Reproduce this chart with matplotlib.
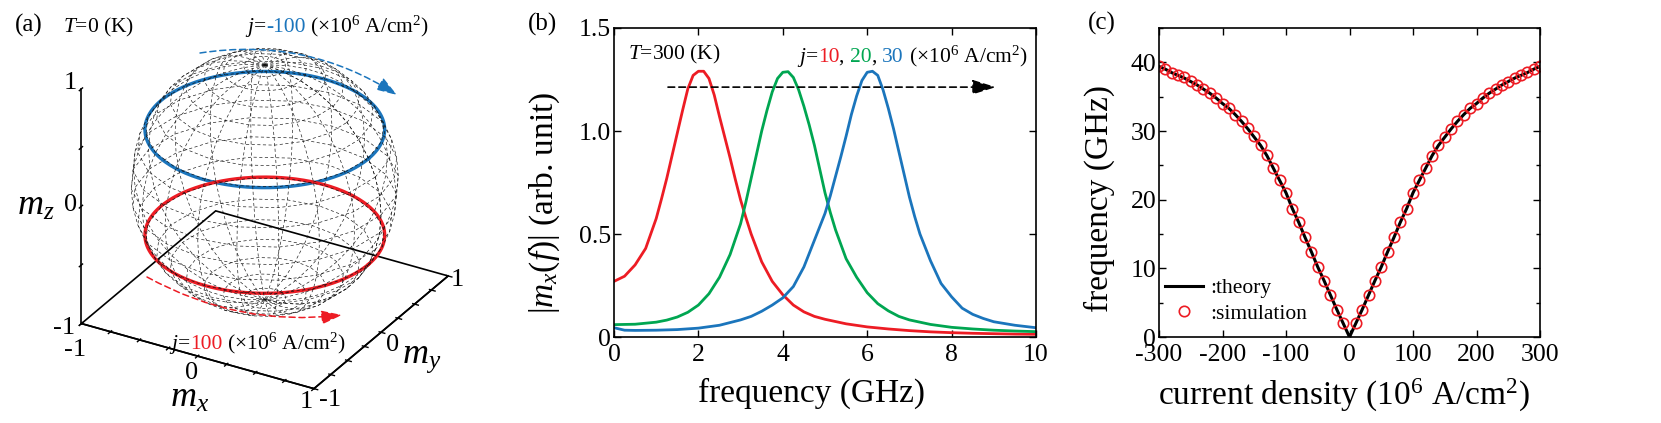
import numpy as np
import matplotlib
matplotlib.use("Agg")
import matplotlib.pyplot as plt
from matplotlib.patches import FancyArrowPatch
from matplotlib.ticker import MultipleLocator
from matplotlib import transforms as mtransforms
from mpl_toolkits.mplot3d import proj3d

plt.rcParams['font.family'] = ['Liberation Serif', 'DejaVu Serif']
plt.rcParams['mathtext.fontset'] = 'custom'
plt.rcParams['mathtext.rm'] = 'Liberation Serif'
plt.rcParams['mathtext.it'] = 'Liberation Serif:italic'
plt.rcParams['mathtext.bf'] = 'Liberation Serif:bold'
plt.rcParams['axes.unicode_minus'] = False

RED = '#ED1C24'
GREEN = '#00A651'
BLUE = '#1B75BC'

# ---------------- data ----------------
# panel (a): precession cones
mz_blue = 0.45     # j = -100
mz_red = -0.45     # j = 100
m_ticks = [-1, -0.75, -0.5, -0.25, 0, 0.25, 0.5, 0.75, 1]
mz_ticks = [-1, -0.5, 0, 0.5, 1]

# panel (b): spectra |m_x(f)|
f_j10 = [0, 0.25, 0.5, 0.75, 1.0, 1.125, 1.25, 1.375, 1.5, 1.625, 1.75, 1.875,
         2.0, 2.125, 2.25, 2.375, 2.5, 2.625, 2.75, 2.875, 3.0, 3.125, 3.25,
         3.5, 3.75, 4.0, 4.25, 4.5, 4.75, 5.0, 5.5, 6.0, 6.5, 7.0, 7.5, 8.0,
         8.5, 9.0, 9.5, 10]
mx_j10 = [0.27, 0.295, 0.35, 0.43, 0.575, 0.67, 0.77, 0.88, 0.99, 1.10, 1.205, 1.27,
          1.29, 1.29, 1.255, 1.175, 1.07, 0.97, 0.87, 0.765, 0.665, 0.58, 0.50,
          0.365, 0.27, 0.205, 0.155, 0.122, 0.10, 0.086, 0.064, 0.049, 0.039, 0.031,
          0.025, 0.021, 0.018, 0.016, 0.014, 0.013]
f_j20 = [0, 0.5, 1.0, 1.25, 1.5, 1.75, 2.0, 2.25, 2.5, 2.75, 3.0, 3.125, 3.25,
         3.375, 3.5, 3.625, 3.75, 3.875, 4.0, 4.125, 4.25, 4.375, 4.5, 4.625,
         4.75, 4.875, 5.0, 5.125, 5.25, 5.5, 5.75, 6.0, 6.25, 6.5, 6.75, 7.0,
         7.5, 8.0, 8.5, 9.0, 9.5, 10]
mx_j20 = [0.06, 0.062, 0.072, 0.082, 0.097, 0.12, 0.155, 0.21, 0.29, 0.40, 0.55,
          0.655, 0.77, 0.885, 1.00, 1.10, 1.19, 1.255, 1.285, 1.288, 1.26, 1.20,
          1.12, 1.03, 0.93, 0.815, 0.70, 0.605, 0.52, 0.38, 0.29, 0.215, 0.162,
          0.127, 0.10, 0.083, 0.061, 0.047, 0.039, 0.033, 0.029, 0.026]
f_j30 = [0, 0.25, 0.5, 1.0, 1.5, 2.0, 2.5, 3.0, 3.25, 3.5, 3.75, 4.0, 4.25, 4.5,
         4.75, 5.0, 5.125, 5.25, 5.375, 5.5, 5.625, 5.75, 5.875, 6.0, 6.125,
         6.25, 6.375, 6.5, 6.625, 6.75, 6.875, 7.0, 7.125, 7.25, 7.5, 7.75, 8.0,
         8.25, 8.5, 8.75, 9.0, 9.5, 10]
mx_j30 = [0.045, 0.033, 0.032, 0.033, 0.036, 0.043, 0.057, 0.083, 0.10, 0.125,
          0.155, 0.19, 0.245, 0.34, 0.47, 0.60, 0.685, 0.78, 0.875, 0.975, 1.08,
          1.17, 1.245, 1.285, 1.29, 1.27, 1.20, 1.11, 1.01, 0.90, 0.79, 0.68,
          0.585, 0.50, 0.37, 0.26, 0.195, 0.14, 0.11, 0.09, 0.074, 0.057, 0.045]

# panel (c): frequency vs current density
j_theory = [-300, -290, -280, -270, -260, -250, -240, -230, -220, -210,
            -200, -190, -180, -170, -160, -150, -140, -130, -120, -110,
            -100, -90, -80, -70, -60, -50, -40, -30, -20, -10, 0,
            10, 20, 30, 40, 50, 60, 70, 80, 90, 100,
            110, 120, 130, 140, 150, 160, 170, 180, 190, 200,
            210, 220, 230, 240, 250, 260, 270, 280, 290, 300]
f_theory = [39.4, 39.0, 38.5, 38.1, 37.7, 37.2, 36.7, 36.1, 35.5, 34.8,
            34.0, 33.3, 32.4, 31.4, 30.3, 29.1, 27.9, 26.4, 24.6, 22.8,
            21.0, 18.7, 16.7, 14.5, 12.4, 10.2, 8.2, 6.1, 4.0, 2.0, 0.0,
            2.0, 4.0, 6.1, 8.2, 10.2, 12.4, 14.5, 16.7, 18.7, 21.0,
            22.8, 24.6, 26.4, 27.9, 29.1, 30.3, 31.4, 32.4, 33.3, 34.0,
            34.8, 35.5, 36.1, 36.7, 37.2, 37.7, 38.1, 38.5, 39.0, 39.4]
j_sim = [-300, -290, -280, -270, -260, -250, -240, -230, -220, -210,
         -200, -190, -180, -170, -160, -150, -140, -130, -120, -110,
         -100, -90, -80, -70, -60, -50, -40, -30, -20, -10,
         10, 20, 30, 40, 50, 60, 70, 80, 90, 100,
         110, 120, 130, 140, 150, 160, 170, 180, 190, 200,
         210, 220, 230, 240, 250, 260, 270, 280, 290, 300]
f_sim = [39.4, 39.0, 38.5, 38.1, 37.8, 37.3, 36.7, 36.1, 35.5, 34.8,
         34.0, 33.3, 32.4, 31.5, 30.4, 29.2, 27.9, 26.5, 24.6, 22.8,
         21.0, 18.7, 16.7, 14.5, 12.4, 10.2, 8.2, 6.1, 4.0, 2.0,
         2.0, 4.0, 6.1, 8.2, 10.2, 12.4, 14.5, 16.7, 18.7, 21.0,
         22.8, 24.6, 26.4, 27.9, 29.1, 30.3, 31.4, 32.4, 33.3, 34.0,
         34.8, 35.5, 36.1, 36.7, 37.2, 37.7, 38.1, 38.6, 39.0, 39.4]

# ---------------- figure ----------------
W, H = 1661, 423
fig = plt.figure(figsize=(W / 100, H / 100), dpi=100)

TICK = 18.5
LAB = 24
ANN = 15.5

def style_2d(ax):
    for s in ax.spines.values():
        s.set_linewidth(1.2)
    ax.tick_params(which='both', direction='in', top=True, right=True,
                   width=1.0, labelsize=TICK)
    ax.tick_params(which='major', length=5)
    ax.tick_params(which='minor', length=3)
    ax.tick_params(axis='x', pad=5)
    ax.tick_params(axis='y', pad=2)

# ---- panel (b)
axb = fig.add_axes([614 / W, (H - 337) / H, 422 / W, 309 / H])
axb.plot(f_j10, mx_j10, color=RED, lw=2.0)
axb.plot(f_j20, mx_j20, color=GREEN, lw=2.0)
axb.plot(f_j30, mx_j30, color=BLUE, lw=2.0)
axb.set_xlim(0, 10)
axb.set_ylim(0, 1.5)
axb.set_xticks([0, 2, 4, 6, 8, 10])
axb.set_yticks([0, 0.5, 1.0, 1.5])
axb.set_yticklabels(['0', '0.5', '1.0', '1.5'])
style_2d(axb)
axb.set_xlabel('frequency (GHz)', fontsize=LAB)
axb.set_ylabel('$|m_x(f)|$ (arb. unit)', fontsize=LAB)
axb.xaxis.set_label_coords(0.468, -0.133)
axb.yaxis.set_label_coords(-0.123, 0.434)
axb.annotate('', xy=(9.05, 1.213), xytext=(1.28, 1.213),
             arrowprops=dict(arrowstyle='-|>,head_length=0.9,head_width=0.28',
                             linestyle=(0, (4, 2.5)), lw=1.2, color='k',
                             mutation_scale=16, shrinkA=0, shrinkB=0))

# ---- panel (c)
axc = fig.add_axes([1159 / W, (H - 337) / H, 381 / W, 309 / H])
axc.plot(j_theory, f_theory, color='k', lw=2.2, label=':theory')
axc.plot(j_sim, f_sim, linestyle='none', marker='o', ms=7.5, mfc='none',
         mec=RED, mew=1.2, label=':simulation')
axc.set_xlim(-300, 300)
axc.set_ylim(0, 45)
axc.set_xticks([-300, -200, -100, 0, 100, 200, 300])
axc.set_yticks([0, 10, 20, 30, 40])
axc.yaxis.set_minor_locator(MultipleLocator(5))
style_2d(axc)
axc.set_xlabel('current density (10$^6$ A/cm$^2$)', fontsize=LAB)
axc.set_ylabel('frequency (GHz)', fontsize=LAB)
axc.xaxis.set_label_coords(0.4856, -0.13)
axc.yaxis.set_label_coords(-0.115, 0.447)
axc.legend(loc='center left', bbox_to_anchor=(0.0157, 0.1165), frameon=False,
           borderpad=0, borderaxespad=0, handlelength=1.75, handletextpad=0.35,
           labelspacing=0.25, fontsize=ANN)

# ---- panel (a): 3D
ax3 = fig.add_axes([0.0, 0.05, 0.3, 0.9], projection='3d', proj_type='ortho')
ax3.view_init(elev=29, azim=-60)
ax3.set_box_aspect((1, 1, 1))
u = np.linspace(0, 2 * np.pi, 21)
v = np.linspace(0, np.pi, 21)
Xs = np.outer(np.cos(u), np.sin(v))
Ys = np.outer(np.sin(u), np.sin(v))
Zs = np.outer(np.ones_like(u), np.cos(v))
ax3.plot_wireframe(Xs, Ys, Zs, rstride=1, cstride=1, color='#111111',
                   linewidth=0.45, linestyle=(0, (5, 4)))
th = np.linspace(0, 2 * np.pi, 300)
for mz, col in ((mz_blue, BLUE), (mz_red, RED)):
    r = np.sqrt(1 - mz ** 2)
    ax3.plot(r * np.cos(th), r * np.sin(th), np.full_like(th, mz), color=col, lw=2.4)
ax3.set_xlim(-1, 1)
ax3.set_ylim(-1, 1)
ax3.set_zlim(-1, 1)
ax3.set_xticks(m_ticks)
ax3.set_yticks(m_ticks)
ax3.set_zticks(mz_ticks)
ax3.set_xticklabels([''] * len(m_ticks))
ax3.set_yticklabels([''] * len(m_ticks))
ax3.set_zticklabels([''] * len(mz_ticks))
ax3.grid(False)
ax3.zaxis.set_ticks_position('lower')
for a in (ax3.xaxis, ax3.yaxis):
    a.set_pane_color((1, 1, 1, 0))
    a.pane.set_edgecolor((1, 1, 1, 0))
zp = ax3.zaxis.pane
zp.set_alpha(None)
zp.set_closed(True)
zp.set_facecolor((1, 1, 1, 0))
zp.set_edgecolor((0, 0, 0, 1))
zp.set_linewidth(1.2)
for a in (ax3.xaxis, ax3.yaxis, ax3.zaxis):
    a.line.set_color('k')
    a.line.set_linewidth(1.2)
    a._axinfo['tick']['color'] = 'k'
    a._axinfo['tick']['linewidth'] = {True: 1.0, False: 0.8}

def proj_disp(pts):
    pts = np.asarray(pts, float)
    x2, y2, _ = proj3d.proj_transform(pts[:, 0], pts[:, 1], pts[:, 2], ax3.get_proj())
    return ax3.transData.transform(np.column_stack([x2, y2]))

# fit the 3D box onto its place in the reference layout
fig.canvas.draw()
corners = [[-1, -1, -1], [1, -1, -1], [1, 1, -1], [-1, -1, 1]]
targets = np.array([[80, 322], [315, 388], [450, 274], [80, 93]], float)
targets[:, 1] = H - targets[:, 1]
disp = proj_disp(corners)
pos = ax3.get_position()
x0, y0, side = pos.x0 * W, pos.y0 * H, pos.width * W
p = (disp - np.array([x0, y0])) / side
A = []
b = []
for (px, py), (tx, ty) in zip(p, targets):
    A.append([1, 0, px]); b.append(tx)
    A.append([0, 1, py]); b.append(ty)
sol, *_ = np.linalg.lstsq(np.array(A), np.array(b), rcond=None)
Ox, Oy, L = sol
ax3.set_position([Ox / W, Oy / H, L / W, L / H])

# ---- overlay for free text / arrows (pixel coordinates)
axo = fig.add_axes([0, 0, 1, 1], zorder=10)
axo.set_xlim(0, W)
axo.set_ylim(H, 0)
axo.axis('off')
axo.patch.set_alpha(0)

fig.canvas.draw()
renderer = fig.canvas.get_renderer()

# 3D tick labels, placed next to their projected tick positions
tick_labels = [
    ((-1, -1, -1), '-1', -6.5, 26), ((0, -1, -1), '0', -6.5, 17), ((1, -1, -1), '1', -7.5, 13),
    ((1, -1, -1), '-1', 16, 11), ((1, 0, -1), '0', 11.5, 13), ((1, 1, -1), '1', 9, 4.5),
    ((-1, -1, 1), '1', -11, -6), ((-1, -1, 0), '0', -10.5, -1), ((-1, -1, -1), '-1', -17, 4),
]
for pt, s, ox, oy in tick_labels:
    d = proj_disp([pt])[0]
    axo.text(d[0] + ox, H - d[1] + oy, s, fontsize=19, ha='center', va='center')

def text_width(s, size):
    t = axo.text(0, 0, s, fontsize=size)
    w = t.get_window_extent(renderer).width
    t.remove()
    return w

def rich_text(x, y, pieces, size):
    ref = text_width('|', size)
    prefix = ''
    for s, c in pieces:
        dx = 0.0 if prefix == '' else text_width(prefix + '|', size) - ref
        tr = mtransforms.offset_copy(axo.transData, fig=fig, x=dx, y=0, units='dots')
        axo.text(x, y, s, color=c, fontsize=size, ha='left', va='baseline', transform=tr)
        prefix += s

unit = r' (×10$^6$ A/cm$^2$)'
axo.text(15, 32, '(a)', fontsize=18, ha='left', va='baseline')
axo.text(528, 31, '(b)', fontsize=18, ha='left', va='baseline')
axo.text(1088, 30, '(c)', fontsize=18, ha='left', va='baseline')
axo.text(63, 32, '$T$=0 (K)', fontsize=ANN, ha='left', va='baseline')
rich_text(245, 32, [('$j$=', 'k'), ('-100', BLUE), (unit, 'k')], ANN)
rich_text(169, 349, [('$j$=', 'k'), ('100', RED), (unit, 'k')], ANN)
axo.text(628, 59, '$T$=300 (K)', fontsize=ANN, ha='left', va='baseline')
rich_text(797, 62, [('$j$=', 'k'), ('10', RED), (', ', 'k'), ('20', GREEN),
                    (', ', 'k'), ('30', BLUE), (unit, 'k')], ANN)
axo.text(17, 215, '$m_z$', fontsize=26, ha='left', va='baseline')
axo.text(170, 407, '$m_x$', fontsize=26, ha='left', va='baseline')
axo.text(402, 363, '$m_y$', fontsize=26, ha='left', va='baseline')

axo.add_patch(FancyArrowPatch((200, 53), (397, 95), connectionstyle='arc3,rad=-0.19',
                              arrowstyle='-|>,head_length=0.9,head_width=0.3',
                              mutation_scale=14, linestyle=(0, (4, 2.5)), lw=1.1,
                              color=BLUE, shrinkA=0, shrinkB=0))
axo.add_patch(FancyArrowPatch((147, 277), (342, 315), connectionstyle='arc3,rad=0.16',
                              arrowstyle='-|>,head_length=0.9,head_width=0.3',
                              mutation_scale=14, linestyle=(0, (4, 2.5)), lw=1.1,
                              color=RED, shrinkA=0, shrinkB=0))

fig.savefig('out.png', dpi=100)
